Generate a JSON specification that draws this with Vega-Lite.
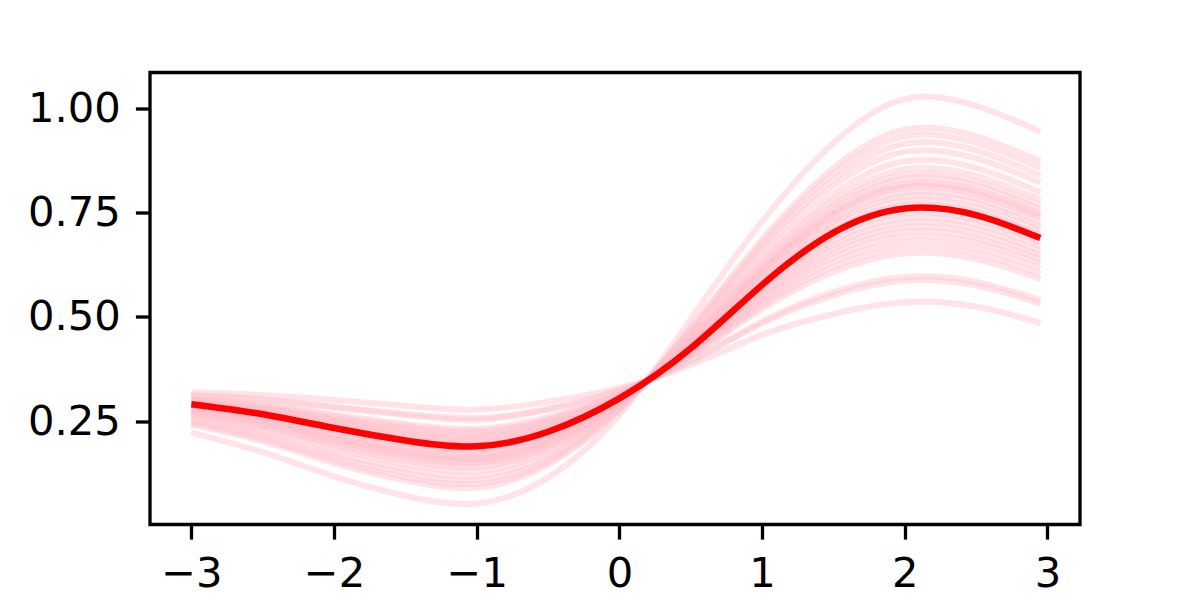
{
  "$schema": "https://vega.github.io/schema/vega-lite/v6.json",
  "autosize": {"type": "none"},
  "padding": {"left": 150, "top": 72.5, "right": 120, "bottom": 75.5},
  "width": 930,
  "height": 452,
  "background": "white",
  "datasets": {
    "mean": [
      {"x": -3, "y": 0.291}, {"x": -2.5, "y": 0.267}, {"x": -2, "y": 0.234}, {"x": -1.5, "y": 0.204}, {"x": -1, "y": 0.190}, {"x": -0.5, "y": 0.225}, {"x": 0, "y": 0.305}, {"x": 0.5, "y": 0.425}, {"x": 1, "y": 0.577}, {"x": 1.5, "y": 0.702}, {"x": 2, "y": 0.760}, {"x": 2.5, "y": 0.744}, {"x": 2.95, "y": 0.689}
    ],
    "samples": [
      {"s":1,"x":-3,"y":0.223},{"s":1,"x":-2.5,"y":0.176},{"s":1,"x":-2,"y":0.118},{"s":1,"x":-1.5,"y":0.071},{"s":1,"x":-1,"y":0.053},{"s":1,"x":-0.5,"y":0.115},{"s":1,"x":0,"y":0.265},{"s":1,"x":0.5,"y":0.495},{"s":1,"x":1,"y":0.729},{"s":1,"x":1.5,"y":0.917},{"s":1,"x":2,"y":1.022},{"s":1,"x":2.5,"y":1.006},{"s":1,"x":2.95,"y":0.944},
      {"s":2,"x":-3,"y":0.242},{"s":2,"x":-2.5,"y":0.202},{"s":2,"x":-2,"y":0.150},{"s":2,"x":-1.5,"y":0.108},{"s":2,"x":-1,"y":0.091},{"s":2,"x":-0.5,"y":0.146},{"s":2,"x":0,"y":0.276},{"s":2,"x":0.5,"y":0.475},{"s":2,"x":1,"y":0.686},{"s":2,"x":1.5,"y":0.857},{"s":2,"x":2,"y":0.949},{"s":2,"x":2.5,"y":0.933},{"s":2,"x":2.95,"y":0.873},
      {"s":3,"x":-3,"y":0.246},{"s":3,"x":-2.5,"y":0.207},{"s":3,"x":-2,"y":0.157},{"s":3,"x":-1.5,"y":0.116},{"s":3,"x":-1,"y":0.100},{"s":3,"x":-0.5,"y":0.152},{"s":3,"x":0,"y":0.279},{"s":3,"x":0.5,"y":0.471},{"s":3,"x":1,"y":0.677},{"s":3,"x":1.5,"y":0.844},{"s":3,"x":2,"y":0.933},{"s":3,"x":2.5,"y":0.917},{"s":3,"x":2.95,"y":0.857},
      {"s":4,"x":-3,"y":0.251},{"s":4,"x":-2.5,"y":0.214},{"s":4,"x":-2,"y":0.165},{"s":4,"x":-1.5,"y":0.126},{"s":4,"x":-1,"y":0.109},{"s":4,"x":-0.5,"y":0.160},{"s":4,"x":0,"y":0.281},{"s":4,"x":0.5,"y":0.466},{"s":4,"x":1,"y":0.667},{"s":4,"x":1.5,"y":0.829},{"s":4,"x":2,"y":0.915},{"s":4,"x":2.5,"y":0.899},{"s":4,"x":2.95,"y":0.839},
      {"s":5,"x":-3,"y":0.256},{"s":5,"x":-2.5,"y":0.220},{"s":5,"x":-2,"y":0.173},{"s":5,"x":-1.5,"y":0.135},{"s":5,"x":-1,"y":0.119},{"s":5,"x":-0.5,"y":0.168},{"s":5,"x":0,"y":0.284},{"s":5,"x":0.5,"y":0.461},{"s":5,"x":1,"y":0.656},{"s":5,"x":1.5,"y":0.814},{"s":5,"x":2,"y":0.896},{"s":5,"x":2.5,"y":0.880},{"s":5,"x":2.95,"y":0.822},
      {"s":6,"x":-3,"y":0.262},{"s":6,"x":-2.5,"y":0.228},{"s":6,"x":-2,"y":0.184},{"s":6,"x":-1.5,"y":0.147},{"s":6,"x":-1,"y":0.131},{"s":6,"x":-0.5,"y":0.178},{"s":6,"x":0,"y":0.288},{"s":6,"x":0.5,"y":0.455},{"s":6,"x":1,"y":0.642},{"s":6,"x":1.5,"y":0.794},{"s":6,"x":2,"y":0.873},{"s":6,"x":2.5,"y":0.857},{"s":6,"x":2.95,"y":0.799},
      {"s":7,"x":-3,"y":0.267},{"s":7,"x":-2.5,"y":0.235},{"s":7,"x":-2,"y":0.192},{"s":7,"x":-1.5,"y":0.156},{"s":7,"x":-1,"y":0.141},{"s":7,"x":-0.5,"y":0.185},{"s":7,"x":0,"y":0.291},{"s":7,"x":0.5,"y":0.450},{"s":7,"x":1,"y":0.632},{"s":7,"x":1.5,"y":0.779},{"s":7,"x":2,"y":0.854},{"s":7,"x":2.5,"y":0.838},{"s":7,"x":2.95,"y":0.781},
      {"s":8,"x":-3,"y":0.270},{"s":8,"x":-2.5,"y":0.239},{"s":8,"x":-2,"y":0.197},{"s":8,"x":-1.5,"y":0.163},{"s":8,"x":-1,"y":0.148},{"s":8,"x":-0.5,"y":0.191},{"s":8,"x":0,"y":0.293},{"s":8,"x":0.5,"y":0.447},{"s":8,"x":1,"y":0.624},{"s":8,"x":1.5,"y":0.769},{"s":8,"x":2,"y":0.841},{"s":8,"x":2.5,"y":0.825},{"s":8,"x":2.95,"y":0.768},
      {"s":9,"x":-3,"y":0.273},{"s":9,"x":-2.5,"y":0.243},{"s":9,"x":-2,"y":0.202},{"s":9,"x":-1.5,"y":0.168},{"s":9,"x":-1,"y":0.153},{"s":9,"x":-0.5,"y":0.195},{"s":9,"x":0,"y":0.294},{"s":9,"x":0.5,"y":0.444},{"s":9,"x":1,"y":0.618},{"s":9,"x":1.5,"y":0.760},{"s":9,"x":2,"y":0.831},{"s":9,"x":2.5,"y":0.815},{"s":9,"x":2.95,"y":0.758},
      {"s":10,"x":-3,"y":0.275},{"s":10,"x":-2.5,"y":0.247},{"s":10,"x":-2,"y":0.207},{"s":10,"x":-1.5,"y":0.173},{"s":10,"x":-1,"y":0.158},{"s":10,"x":-0.5,"y":0.200},{"s":10,"x":0,"y":0.296},{"s":10,"x":0.5,"y":0.441},{"s":10,"x":1,"y":0.612},{"s":10,"x":1.5,"y":0.751},{"s":10,"x":2,"y":0.820},{"s":10,"x":2.5,"y":0.804},{"s":10,"x":2.95,"y":0.748},
      {"s":11,"x":-3,"y":0.277},{"s":11,"x":-2.5,"y":0.249},{"s":11,"x":-2,"y":0.209},{"s":11,"x":-1.5,"y":0.176},{"s":11,"x":-1,"y":0.161},{"s":11,"x":-0.5,"y":0.202},{"s":11,"x":0,"y":0.297},{"s":11,"x":0.5,"y":0.440},{"s":11,"x":1,"y":0.609},{"s":11,"x":1.5,"y":0.747},{"s":11,"x":2,"y":0.815},{"s":11,"x":2.5,"y":0.799},{"s":11,"x":2.95,"y":0.743},
      {"s":12,"x":-3,"y":0.278},{"s":12,"x":-2.5,"y":0.251},{"s":12,"x":-2,"y":0.211},{"s":12,"x":-1.5,"y":0.179},{"s":12,"x":-1,"y":0.164},{"s":12,"x":-0.5,"y":0.204},{"s":12,"x":0,"y":0.297},{"s":12,"x":0.5,"y":0.438},{"s":12,"x":1,"y":0.606},{"s":12,"x":1.5,"y":0.743},{"s":12,"x":2,"y":0.810},{"s":12,"x":2.5,"y":0.794},{"s":12,"x":2.95,"y":0.737},
      {"s":13,"x":-3,"y":0.281},{"s":13,"x":-2.5,"y":0.254},{"s":13,"x":-2,"y":0.216},{"s":13,"x":-1.5,"y":0.184},{"s":13,"x":-1,"y":0.169},{"s":13,"x":-0.5,"y":0.208},{"s":13,"x":0,"y":0.299},{"s":13,"x":0.5,"y":0.436},{"s":13,"x":1,"y":0.600},{"s":13,"x":1.5,"y":0.734},{"s":13,"x":2,"y":0.799},{"s":13,"x":2.5,"y":0.783},{"s":13,"x":2.95,"y":0.727},
      {"s":14,"x":-3,"y":0.284},{"s":14,"x":-2.5,"y":0.258},{"s":14,"x":-2,"y":0.220},{"s":14,"x":-1.5,"y":0.189},{"s":14,"x":-1,"y":0.175},{"s":14,"x":-0.5,"y":0.213},{"s":14,"x":0,"y":0.301},{"s":14,"x":0.5,"y":0.433},{"s":14,"x":1,"y":0.594},{"s":14,"x":1.5,"y":0.726},{"s":14,"x":2,"y":0.789},{"s":14,"x":2.5,"y":0.773},{"s":14,"x":2.95,"y":0.717},
      {"s":15,"x":-3,"y":0.286},{"s":15,"x":-2.5,"y":0.262},{"s":15,"x":-2,"y":0.225},{"s":15,"x":-1.5,"y":0.195},{"s":15,"x":-1,"y":0.180},{"s":15,"x":-0.5,"y":0.217},{"s":15,"x":0,"y":0.302},{"s":15,"x":0.5,"y":0.430},{"s":15,"x":1,"y":0.588},{"s":15,"x":1.5,"y":0.717},{"s":15,"x":2,"y":0.778},{"s":15,"x":2.5,"y":0.762},{"s":15,"x":2.95,"y":0.707},
      {"s":16,"x":-3,"y":0.289},{"s":16,"x":-2.5,"y":0.265},{"s":16,"x":-2,"y":0.230},{"s":16,"x":-1.5,"y":0.200},{"s":16,"x":-1,"y":0.186},{"s":16,"x":-0.5,"y":0.222},{"s":16,"x":0,"y":0.304},{"s":16,"x":0.5,"y":0.427},{"s":16,"x":1,"y":0.582},{"s":16,"x":1.5,"y":0.708},{"s":16,"x":2,"y":0.768},{"s":16,"x":2.5,"y":0.752},{"s":16,"x":2.95,"y":0.697},
      {"s":17,"x":-3,"y":0.292},{"s":17,"x":-2.5,"y":0.270},{"s":17,"x":-2,"y":0.236},{"s":17,"x":-1.5,"y":0.208},{"s":17,"x":-1,"y":0.194},{"s":17,"x":-0.5,"y":0.229},{"s":17,"x":0,"y":0.306},{"s":17,"x":0.5,"y":0.423},{"s":17,"x":1,"y":0.571},{"s":17,"x":1.5,"y":0.692},{"s":17,"x":2,"y":0.749},{"s":17,"x":2.5,"y":0.733},{"s":17,"x":2.95,"y":0.679},
      {"s":18,"x":-3,"y":0.294},{"s":18,"x":-2.5,"y":0.273},{"s":18,"x":-2,"y":0.240},{"s":18,"x":-1.5,"y":0.212},{"s":18,"x":-1,"y":0.199},{"s":18,"x":-0.5,"y":0.232},{"s":18,"x":0,"y":0.308},{"s":18,"x":0.5,"y":0.421},{"s":18,"x":1,"y":0.565},{"s":18,"x":1.5,"y":0.682},{"s":18,"x":2,"y":0.737},{"s":18,"x":2.5,"y":0.722},{"s":18,"x":2.95,"y":0.669},
      {"s":19,"x":-3,"y":0.295},{"s":19,"x":-2.5,"y":0.275},{"s":19,"x":-2,"y":0.243},{"s":19,"x":-1.5,"y":0.216},{"s":19,"x":-1,"y":0.203},{"s":19,"x":-0.5,"y":0.236},{"s":19,"x":0,"y":0.309},{"s":19,"x":0.5,"y":0.419},{"s":19,"x":1,"y":0.559},{"s":19,"x":1.5,"y":0.673},{"s":19,"x":2,"y":0.726},{"s":19,"x":2.5,"y":0.711},{"s":19,"x":2.95,"y":0.658},
      {"s":20,"x":-3,"y":0.297},{"s":20,"x":-2.5,"y":0.277},{"s":20,"x":-2,"y":0.247},{"s":20,"x":-1.5,"y":0.221},{"s":20,"x":-1,"y":0.208},{"s":20,"x":-0.5,"y":0.239},{"s":20,"x":0,"y":0.310},{"s":20,"x":0.5,"y":0.417},{"s":20,"x":1,"y":0.553},{"s":20,"x":1.5,"y":0.663},{"s":20,"x":2,"y":0.715},{"s":20,"x":2.5,"y":0.700},{"s":20,"x":2.95,"y":0.648},
      {"s":21,"x":-3,"y":0.298},{"s":21,"x":-2.5,"y":0.279},{"s":21,"x":-2,"y":0.250},{"s":21,"x":-1.5,"y":0.225},{"s":21,"x":-1,"y":0.212},{"s":21,"x":-0.5,"y":0.243},{"s":21,"x":0,"y":0.311},{"s":21,"x":0.5,"y":0.415},{"s":21,"x":1,"y":0.547},{"s":21,"x":1.5,"y":0.653},{"s":21,"x":2,"y":0.704},{"s":21,"x":2.5,"y":0.689},{"s":21,"x":2.95,"y":0.638},
      {"s":22,"x":-3,"y":0.299},{"s":22,"x":-2.5,"y":0.282},{"s":22,"x":-2,"y":0.253},{"s":22,"x":-1.5,"y":0.229},{"s":22,"x":-1,"y":0.216},{"s":22,"x":-0.5,"y":0.247},{"s":22,"x":0,"y":0.313},{"s":22,"x":0.5,"y":0.413},{"s":22,"x":1,"y":0.541},{"s":22,"x":1.5,"y":0.643},{"s":22,"x":2,"y":0.692},{"s":22,"x":2.5,"y":0.678},{"s":22,"x":2.95,"y":0.628},
      {"s":23,"x":-3,"y":0.301},{"s":23,"x":-2.5,"y":0.284},{"s":23,"x":-2,"y":0.257},{"s":23,"x":-1.5,"y":0.234},{"s":23,"x":-1,"y":0.222},{"s":23,"x":-0.5,"y":0.251},{"s":23,"x":0,"y":0.314},{"s":23,"x":0.5,"y":0.411},{"s":23,"x":1,"y":0.534},{"s":23,"x":1.5,"y":0.632},{"s":23,"x":2,"y":0.679},{"s":23,"x":2.5,"y":0.665},{"s":23,"x":2.95,"y":0.616},
      {"s":24,"x":-3,"y":0.303},{"s":24,"x":-2.5,"y":0.287},{"s":24,"x":-2,"y":0.262},{"s":24,"x":-1.5,"y":0.239},{"s":24,"x":-1,"y":0.227},{"s":24,"x":-0.5,"y":0.255},{"s":24,"x":0,"y":0.316},{"s":24,"x":0.5,"y":0.408},{"s":24,"x":1,"y":0.527},{"s":24,"x":1.5,"y":0.620},{"s":24,"x":2,"y":0.665},{"s":24,"x":2.5,"y":0.652},{"s":24,"x":2.95,"y":0.603},
      {"s":25,"x":-3,"y":0.304},{"s":25,"x":-2.5,"y":0.290},{"s":25,"x":-2,"y":0.266},{"s":25,"x":-1.5,"y":0.244},{"s":25,"x":-1,"y":0.232},{"s":25,"x":-0.5,"y":0.260},{"s":25,"x":0,"y":0.317},{"s":25,"x":0.5,"y":0.406},{"s":25,"x":1,"y":0.519},{"s":25,"x":1.5,"y":0.608},{"s":25,"x":2,"y":0.652},{"s":25,"x":2.5,"y":0.639},{"s":25,"x":2.95,"y":0.591},
      {"s":26,"x":-3,"y":0.311},{"s":26,"x":-2.5,"y":0.301},{"s":26,"x":-2,"y":0.283},{"s":26,"x":-1.5,"y":0.265},{"s":26,"x":-1,"y":0.254},{"s":26,"x":-0.5,"y":0.278},{"s":26,"x":0,"y":0.323},{"s":26,"x":0.5,"y":0.396},{"s":26,"x":1,"y":0.489},{"s":26,"x":1.5,"y":0.560},{"s":26,"x":2,"y":0.596},{"s":26,"x":2.5,"y":0.584},{"s":26,"x":2.95,"y":0.540},
      {"s":27,"x":-3,"y":0.313},{"s":27,"x":-2.5,"y":0.303},{"s":27,"x":-2,"y":0.285},{"s":27,"x":-1.5,"y":0.268},{"s":27,"x":-1,"y":0.258},{"s":27,"x":-0.5,"y":0.280},{"s":27,"x":0,"y":0.324},{"s":27,"x":0.5,"y":0.394},{"s":27,"x":1,"y":0.485},{"s":27,"x":1.5,"y":0.552},{"s":27,"x":2,"y":0.587},{"s":27,"x":2.5,"y":0.575},{"s":27,"x":2.95,"y":0.532},
      {"s":28,"x":-3,"y":0.319},{"s":28,"x":-2.5,"y":0.313},{"s":28,"x":-2,"y":0.301},{"s":28,"x":-1.5,"y":0.287},{"s":28,"x":-1,"y":0.278},{"s":28,"x":-0.5,"y":0.297},{"s":28,"x":0,"y":0.330},{"s":28,"x":0.5,"y":0.385},{"s":28,"x":1,"y":0.457},{"s":28,"x":1.5,"y":0.507},{"s":28,"x":2,"y":0.535},{"s":28,"x":2.5,"y":0.525},{"s":28,"x":2.95,"y":0.485}
    ]
  },
  "layer": [
    {
      "data": {"name": "samples"},
      "mark": {"type": "line", "color": "#FFC0CB", "opacity": 0.45, "strokeWidth": 6, "interpolate": "natural", "clip": true},
      "encoding": {
        "x": {"field": "x", "type": "quantitative", "scale": {"domain": [-3.29, 3.228], "nice": false, "zero": false},
          "axis": {"values": [-3, -2, -1, 0, 1, 2, 3], "format": "d", "title": null, "labelPadding": 14}},
        "y": {"field": "y", "type": "quantitative", "scale": {"domain": [0.0027, 1.0858], "nice": false, "zero": false},
          "axis": {"values": [0.25, 0.5, 0.75, 1.0], "format": ".2f", "title": null, "labelPadding": 15}},
        "detail": {"field": "s", "type": "nominal"}
      }
    },
    {
      "data": {"name": "mean"},
      "mark": {"type": "line", "color": "#FF0000", "strokeWidth": 6.5, "interpolate": "natural", "clip": true},
      "encoding": {
        "x": {"field": "x", "type": "quantitative"},
        "y": {"field": "y", "type": "quantitative"}
      }
    }
  ],
  "config": {
    "view": {"stroke": "black", "strokeWidth": 3.3},
    "axis": {
      "domain": false,
      "grid": false,
      "ticks": true,
      "tickColor": "black",
      "tickWidth": 3.3,
      "tickSize": 14.6,
      "labelFont": "DejaVu Sans",
      "labelFontSize": 41.7,
      "labelColor": "black",
      "labelFlush": false,
      "labelOverlap": false
    }
  }
}
